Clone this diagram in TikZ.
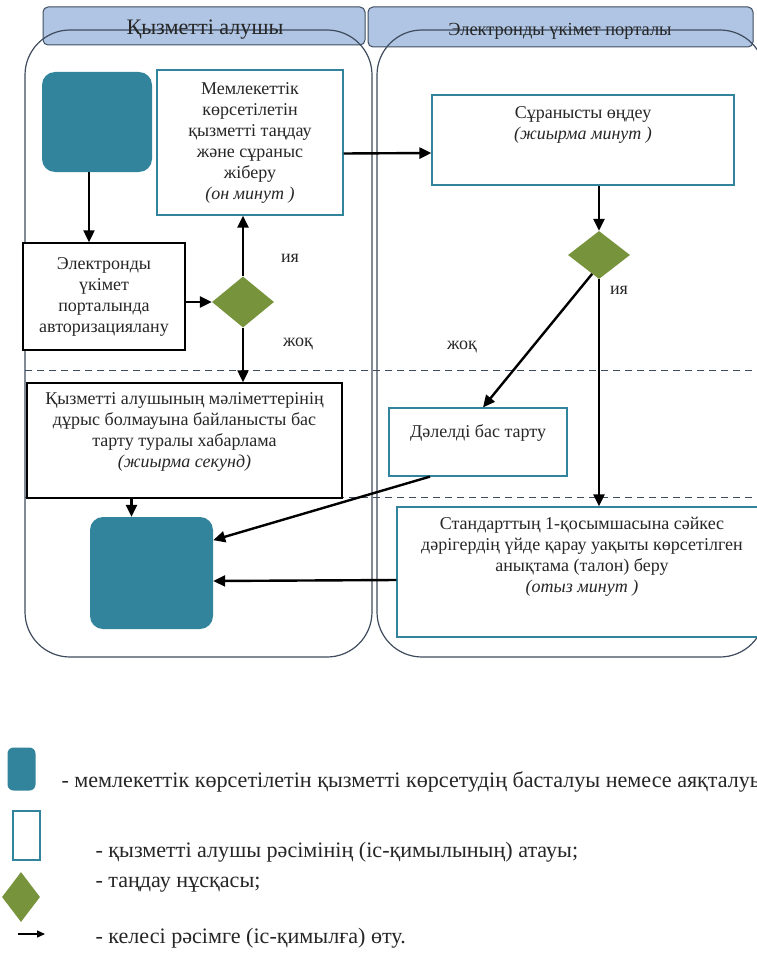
\documentclass[tikz,border=0pt]{standalone}
\usepackage{fontspec}
\usepackage{graphicx}
\setmainfont{Liberation Serif}
\usetikzlibrary{shapes.geometric,arrows.meta}
\definecolor{tealfill}{HTML}{31849B}
\definecolor{olivefill}{HTML}{77933C}
\definecolor{headfill}{HTML}{AFC5E3}
\definecolor{laneline}{HTML}{3F4C5E}
\newcommand{\boxtext}[2][1.2]{\scalebox{#1}{\begin{tabular}{@{}c@{}}#2\end{tabular}}}
\tikzset{
  box/.style={rectangle,draw=tealfill,line width=1.2pt,fill=white,align=center},
  blackbox/.style={box,draw=black,line width=1.5pt},
  term/.style={rectangle,rounded corners=13pt,fill=tealfill},
  choice/.style={diamond,fill=olivefill,inner sep=0pt},
  arr/.style={-{Triangle[length=12pt,width=11pt]},line width=2.4pt},
  lane/.style={draw=laneline,line width=1.2pt,rounded corners=45pt},
  head/.style={draw=laneline,fill=headfill,line width=1pt,rounded corners=5pt},
  legendtext/.style={anchor=west,font=\fontsize{17}{20}\selectfont}
}
\begin{document}
\begin{tikzpicture}
  [x=1pt,y=-1pt,every node/.style={font=\fontsize{15}{17.5}\selectfont,text=black!85}]
  \useasboundingbox (0,0) rectangle (757,963);

  % swimlanes
  \draw[head] (43,7) rectangle (365,45);
  \draw[head] (368,7) rectangle (753,47);
  \draw[lane] (25,30) rectangle (372,657);
  \draw[lane] (377,30) rectangle (765,657);
  \node (h1)[font=\fontsize{17}{20}\selectfont] at (205,29) {\boxtext[1.3]{Қызметті алушы}};
  \node (h2) at (560,31) {\boxtext[1.23]{Электронды үкімет порталы}};
  \draw[laneline,dash pattern=on 7pt off 5pt,line width=1pt] (25,370) -- (757,370);
  \draw[laneline,dash pattern=on 7pt off 5pt,line width=1pt] (25,497) -- (757,497);

  \node (start)[term,minimum width=110pt,minimum height=100pt] at (97,122) {};
  \node (sel)[box,minimum width=186pt,minimum height=145pt] at (250,142.5)
    {\boxtext{Мемлекеттік\\ көрсетілетін\\ қызметті таңдау\\ және сұраныс\\ жіберу\\ {\itshape (он  минут )}}};
  \node (auth)[blackbox,minimum width=162pt,minimum height=107pt] at (104,296.5)
    {\boxtext{Электронды\\ үкімет\\ порталында\\ авторизациялану}};
  \node (d1)[choice,minimum width=62pt,minimum height=51pt] at (243,302) {};
  \node (rej)[blackbox,minimum width=315pt,minimum height=115pt] at (184.5,440.5)
    {\boxtext{Қызметті алушының мәліметтерінің\\ дұрыс болмауына байланысты бас\\ тарту туралы хабарлама\\ {\itshape (жиырма  секунд)}\\[14pt]}};
  \node (fin)[term,minimum width=123pt,minimum height=112pt] at (151.5,573) {};

  \node (proc)[box,minimum width=302pt,minimum height=90pt] at (583,140)
    {\boxtext{Сұранысты өңдеу\\ {\itshape (жиырма  минут )}\\[25pt]}};
  \node (d2)[choice,minimum width=62pt,minimum height=48pt] at (599,255) {};
  \node (refuse)[box,minimum width=178pt,minimum height=68pt] at (478,442)
    {\boxtext{Дәлелді бас тарту\\[15pt]}};
  \node (issue)[box,minimum width=370pt,minimum height=130pt] at (582,572)
    {\boxtext{Стандарттың 1-қосымшасына сәйкес\\ дәрігердің үйде қарау уақыты көрсетілген\\ анықтама (талон) беру\\ {\itshape (отыз минут )}\\[25pt]}};

  \node (yes1) at (290,258) {\boxtext{ия}};
  \node (no1) at (298,342) {\boxtext{жоқ}};
  \node (yes2) at (619,290) {\boxtext{ия}};
  \node (no2) at (462,345) {\boxtext{жоқ}};

  \draw[arr] ([xshift=-8pt]start.south) -- ([xshift=-15pt]auth.north);
  \draw[arr] (auth.east |- d1.west) -- (d1.west);
  \draw[arr] (d1.north) -- (d1.north |- sel.south);
  \draw[arr] (d1.south) -- (d1.south |- rej.north);
  \draw[arr] ([xshift=-20pt]fin.north |- rej.south) -- ([xshift=-20pt]fin.north);
  \draw[arr] ([yshift=-11pt]sel.east) -- ([yshift=-13pt]proc.west);
  \draw[arr] (d2.north |- proc.south) -- (d2.north);
  \draw[arr] (d2.250) -- ([xshift=5pt]refuse.north);
  \draw[arr] (d2.south) -- (d2.south |- issue.north);
  \draw[arr] ([xshift=-48pt]refuse.south) -- (fin.28);
  \draw[arr] ([yshift=-8pt]issue.west) -- ([yshift=-8pt]fin.east);

  % legend
  \node (lstart)[term,rounded corners=6pt,minimum width=28pt,minimum height=43pt] at (21.5,769) {};
  \node (lbox)[box,line width=1.5pt,minimum width=27pt,minimum height=49pt] at (26.5,835.5) {};
  \node (ldia)[choice,minimum width=38pt,minimum height=50pt] at (21,897) {};
  \coordinate (la) at (18,934);
  \coordinate (lb) at (45,934);
  \draw[-{Triangle[length=8pt,width=7pt]},line width=1.3pt] (la) -- (lb);
  \node (t1)[legendtext] at (58,782) {\boxtext[1.3]{- мемлекеттік көрсетілетін қызметті көрсетудің басталуы немесе аяқталуы;}};
  \node (t2)[legendtext] at (92,852) {\boxtext[1.3]{- қызметті алушы рәсімінің (іс-қимылының) атауы;}};
  \node (t3)[legendtext] at (92,882) {\boxtext[1.3]{- таңдау нұсқасы;}};
  \node (t4)[legendtext] at (92,938) {\boxtext[1.3]{- келесі рәсімге (іс-қимылға) өту.}};
\end{tikzpicture}
\end{document}
